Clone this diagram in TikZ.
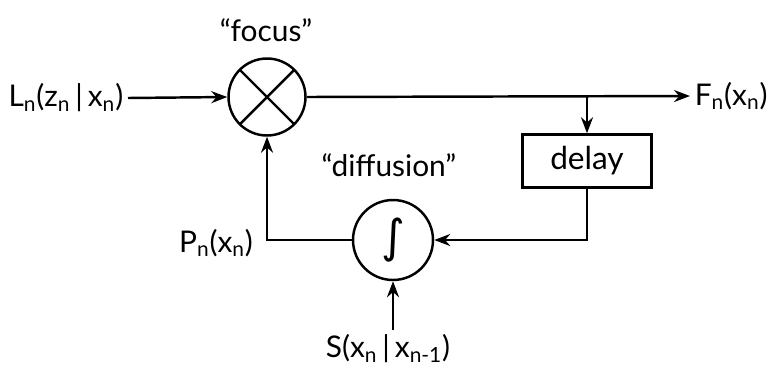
\documentclass[tikz,border=0pt]{standalone}
\usepackage{fontspec}
\setmainfont{Lato}
\newfontfamily\symfont{DejaVu Sans}
\usetikzlibrary{positioning, arrows.meta, calc}

\begin{document}
\begin{tikzpicture}[x=0.02cm, y=-0.02cm,
    line width=1.4pt,
    every node/.style={font=\fontsize{17}{20}\selectfont},
    flow/.style={-{Stealth[length=3.2mm, width=2.4mm]}},
    mixer/.style={draw, circle, minimum size=1.54cm, inner sep=0pt},
    intbox/.style={draw, circle, minimum size=1.6cm, inner sep=0pt},
    delaybox/.style={draw, minimum width=2.58cm, minimum height=1.06cm, inner sep=0pt},
    sig/.style={inner sep=2pt}]
  \useasboundingbox (0,0) rectangle (773,376);
  % blocks
  \node[mixer] (focus) at (267,97) {};
  \draw ($(focus.center)!0.98!(focus.45)$) -- ($(focus.center)!0.98!(focus.225)$);
  \draw ($(focus.center)!0.98!(focus.135)$) -- ($(focus.center)!0.98!(focus.-45)$);
  \node[intbox] (diff) at (393,240) {\symfont\fontsize{26}{28}\selectfont ∫};
  \node[delaybox] (delay) at (587,161) {\fontsize{18}{20}\selectfont delay};
  % labels
  \node at (266,30) {“focus”};
  \node at (389,165) {“diffusion”};
  \node[sig, anchor=east] (lik) at (128,98)
    {L\textsubscript{n}(z\textsubscript{n}\,|\,x\textsubscript{n})};
  \node[sig, anchor=west] (fout) at (690,96) {F\textsubscript{n}(x\textsubscript{n})};
  \node[sig] (prior) at (216,243) {P\textsubscript{n}(x\textsubscript{n})};
  \node[sig, anchor=north] (trans) at (388,330)
    {S(x\textsubscript{n}\,|\,x\textsubscript{n-1})};
  \coordinate (branch) at (587,96);
  % connectors
  \draw[flow] (lik.east) -- (focus.west);
  \draw[flow] (focus.east) -- (fout.west);
  \draw[flow] (branch) -- (delay.north);
  \draw[flow] (delay.south) |- (diff.east);
  \draw[flow] (diff.west) -| (focus.south);
  \draw[flow] (diff.south |- trans.north) -- (diff.south);
\end{tikzpicture}
\end{document}
